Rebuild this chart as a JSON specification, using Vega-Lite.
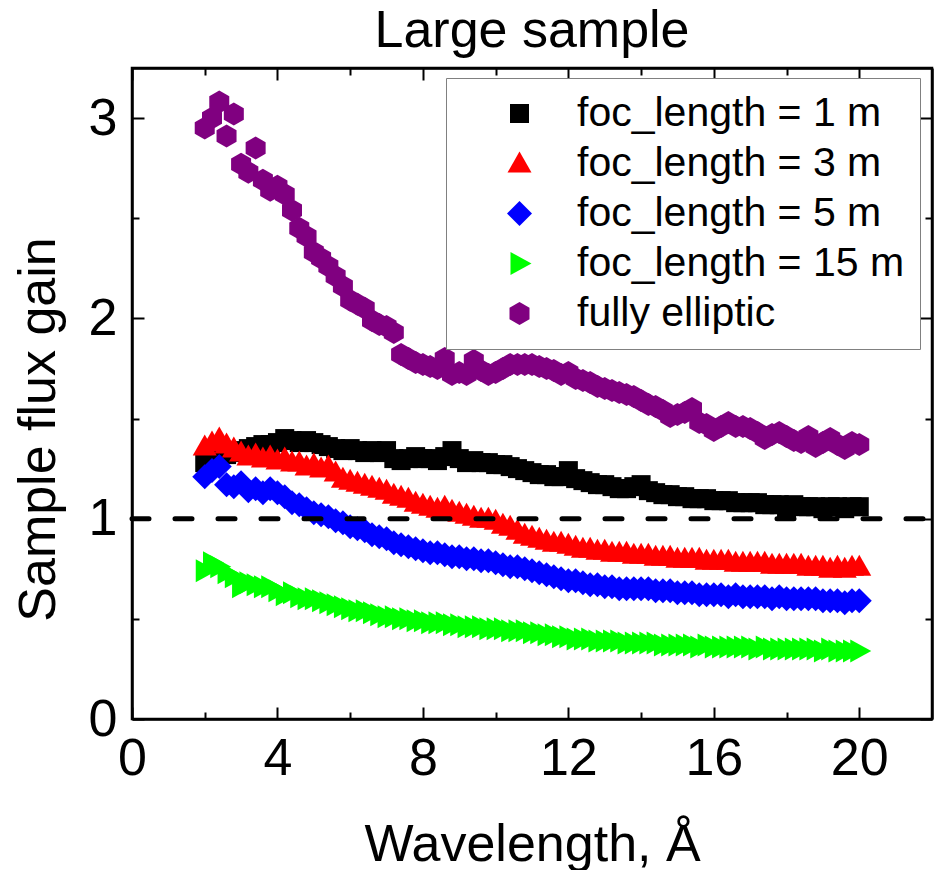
{
"$schema": "https://vega.github.io/schema/vega-lite/v6.json",
"width": 800,
"height": 651,
"autosize": {"type": "none"},
"padding": {"left": 132, "top": 68, "right": 8, "bottom": 151},
"background": "white",
"title": {"text": "Large sample", "fontSize": 52, "font": "Liberation Sans", "fontWeight": "normal", "anchor": "middle", "baseline": "alphabetic", "offset": 20, "dy": 52, "color": "black"},
"config": {
  "view": {"stroke": "black", "strokeWidth": 2.5},
  "font": "Liberation Sans",
  "axis": {"grid": false, "domainColor": "black", "domainWidth": 2.5, "tickColor": "black", "tickWidth": 2, "labelColor": "black", "labelFont": "Liberation Sans", "labelFontSize": 52, "titleFont": "Liberation Sans", "titleFontSize": 52, "titleFontWeight": "normal", "titleColor": "black", "labelOverlap": false, "labelFlush": false},
  "legend": {"orient": "none", "legendX": 314, "legendY": 10, "padding": 15, "strokeColor": "#808080", "fillColor": "white", "labelFont": "Liberation Sans", "labelFontSize": 41, "labelColor": "black", "labelLimit": 500, "symbolSize": 400, "symbolStrokeWidth": 0, "symbolOpacity": 1, "symbolOffset": 38, "labelOffset": 37, "rowPadding": 8}
},
"resolve": {"axis": {"x": "independent", "y": "independent"}},
"layer": [
{
  "data": {"values": [
{"x":2,"y":1.28,"s":"f1"},{"x":2.2,"y":1.30,"s":"f1"},{"x":2.4,"y":1.31,"s":"f1"},{"x":2.6,"y":1.32,"s":"f1"},{"x":2.8,"y":1.33,"s":"f1"},{"x":3,"y":1.34,"s":"f1"},{"x":3.2,"y":1.35,"s":"f1"},{"x":3.4,"y":1.36,"s":"f1"},{"x":3.6,"y":1.37,"s":"f1"},{"x":3.8,"y":1.37,"s":"f1"},
{"x":4,"y":1.38,"s":"f1"},{"x":4.2,"y":1.40,"s":"f1"},{"x":4.4,"y":1.39,"s":"f1"},{"x":4.6,"y":1.38,"s":"f1"},{"x":4.8,"y":1.39,"s":"f1"},{"x":5,"y":1.38,"s":"f1"},{"x":5.2,"y":1.37,"s":"f1"},{"x":5.4,"y":1.36,"s":"f1"},{"x":5.6,"y":1.35,"s":"f1"},{"x":5.8,"y":1.34,"s":"f1"},
{"x":6,"y":1.35,"s":"f1"},{"x":6.2,"y":1.34,"s":"f1"},{"x":6.4,"y":1.33,"s":"f1"},{"x":6.6,"y":1.34,"s":"f1"},{"x":6.8,"y":1.33,"s":"f1"},{"x":7,"y":1.34,"s":"f1"},{"x":7.2,"y":1.30,"s":"f1"},{"x":7.4,"y":1.29,"s":"f1"},{"x":7.6,"y":1.30,"s":"f1"},{"x":7.8,"y":1.31,"s":"f1"},
{"x":8,"y":1.30,"s":"f1"},{"x":8.2,"y":1.30,"s":"f1"},{"x":8.4,"y":1.29,"s":"f1"},{"x":8.6,"y":1.31,"s":"f1"},{"x":8.8,"y":1.34,"s":"f1"},{"x":9,"y":1.30,"s":"f1"},{"x":9.2,"y":1.28,"s":"f1"},{"x":9.4,"y":1.29,"s":"f1"},{"x":9.6,"y":1.28,"s":"f1"},{"x":9.8,"y":1.28,"s":"f1"},
{"x":10,"y":1.27,"s":"f1"},{"x":10.2,"y":1.27,"s":"f1"},{"x":10.4,"y":1.26,"s":"f1"},{"x":10.6,"y":1.25,"s":"f1"},{"x":10.8,"y":1.24,"s":"f1"},{"x":11,"y":1.23,"s":"f1"},{"x":11.2,"y":1.22,"s":"f1"},{"x":11.4,"y":1.22,"s":"f1"},{"x":11.6,"y":1.21,"s":"f1"},{"x":11.8,"y":1.21,"s":"f1"},
{"x":12,"y":1.24,"s":"f1"},{"x":12.2,"y":1.20,"s":"f1"},{"x":12.4,"y":1.19,"s":"f1"},{"x":12.6,"y":1.18,"s":"f1"},{"x":12.8,"y":1.17,"s":"f1"},{"x":13,"y":1.17,"s":"f1"},{"x":13.2,"y":1.16,"s":"f1"},{"x":13.4,"y":1.15,"s":"f1"},{"x":13.6,"y":1.15,"s":"f1"},{"x":13.8,"y":1.16,"s":"f1"},
{"x":14,"y":1.17,"s":"f1"},{"x":14.2,"y":1.14,"s":"f1"},{"x":14.4,"y":1.13,"s":"f1"},{"x":14.6,"y":1.12,"s":"f1"},{"x":14.8,"y":1.12,"s":"f1"},{"x":15,"y":1.11,"s":"f1"},{"x":15.2,"y":1.11,"s":"f1"},{"x":15.4,"y":1.10,"s":"f1"},{"x":15.6,"y":1.10,"s":"f1"},{"x":15.8,"y":1.10,"s":"f1"},
{"x":16,"y":1.09,"s":"f1"},{"x":16.2,"y":1.09,"s":"f1"},{"x":16.4,"y":1.09,"s":"f1"},{"x":16.6,"y":1.08,"s":"f1"},{"x":16.8,"y":1.08,"s":"f1"},{"x":17,"y":1.08,"s":"f1"},{"x":17.2,"y":1.08,"s":"f1"},{"x":17.4,"y":1.07,"s":"f1"},{"x":17.6,"y":1.07,"s":"f1"},{"x":17.8,"y":1.07,"s":"f1"},
{"x":18,"y":1.04,"s":"f1"},{"x":18.2,"y":1.07,"s":"f1"},{"x":18.4,"y":1.06,"s":"f1"},{"x":18.6,"y":1.06,"s":"f1"},{"x":18.8,"y":1.06,"s":"f1"},{"x":19,"y":1.05,"s":"f1"},{"x":19.2,"y":1.06,"s":"f1"},{"x":19.4,"y":1.06,"s":"f1"},{"x":19.6,"y":1.05,"s":"f1"},{"x":19.8,"y":1.06,"s":"f1"},{"x":20,"y":1.06,"s":"f1"},

{"x":2,"y":1.36,"s":"f3"},{"x":2.2,"y":1.38,"s":"f3"},{"x":2.4,"y":1.40,"s":"f3"},{"x":2.6,"y":1.37,"s":"f3"},{"x":2.8,"y":1.35,"s":"f3"},{"x":3,"y":1.33,"s":"f3"},{"x":3.2,"y":1.31,"s":"f3"},{"x":3.4,"y":1.32,"s":"f3"},{"x":3.6,"y":1.30,"s":"f3"},{"x":3.8,"y":1.31,"s":"f3"},
{"x":4,"y":1.29,"s":"f3"},{"x":4.2,"y":1.30,"s":"f3"},{"x":4.4,"y":1.28,"s":"f3"},{"x":4.6,"y":1.28,"s":"f3"},{"x":4.8,"y":1.26,"s":"f3"},{"x":5,"y":1.27,"s":"f3"},{"x":5.2,"y":1.25,"s":"f3"},{"x":5.4,"y":1.26,"s":"f3"},{"x":5.6,"y":1.23,"s":"f3"},{"x":5.8,"y":1.20,"s":"f3"},
{"x":6,"y":1.19,"s":"f3"},{"x":6.2,"y":1.18,"s":"f3"},{"x":6.4,"y":1.17,"s":"f3"},{"x":6.6,"y":1.16,"s":"f3"},{"x":6.8,"y":1.15,"s":"f3"},{"x":7,"y":1.14,"s":"f3"},{"x":7.2,"y":1.12,"s":"f3"},{"x":7.4,"y":1.11,"s":"f3"},{"x":7.6,"y":1.10,"s":"f3"},{"x":7.8,"y":1.08,"s":"f3"},
{"x":8,"y":1.07,"s":"f3"},{"x":8.2,"y":1.06,"s":"f3"},{"x":8.4,"y":1.05,"s":"f3"},{"x":8.6,"y":1.06,"s":"f3"},{"x":8.8,"y":1.04,"s":"f3"},{"x":9,"y":1.03,"s":"f3"},{"x":9.2,"y":1.02,"s":"f3"},{"x":9.4,"y":1.01,"s":"f3"},{"x":9.6,"y":1.00,"s":"f3"},{"x":9.8,"y":1.00,"s":"f3"},
{"x":10,"y":0.99,"s":"f3"},{"x":10.2,"y":0.97,"s":"f3"},{"x":10.4,"y":0.96,"s":"f3"},{"x":10.6,"y":0.94,"s":"f3"},{"x":10.8,"y":0.92,"s":"f3"},{"x":11,"y":0.91,"s":"f3"},{"x":11.2,"y":0.90,"s":"f3"},{"x":11.4,"y":0.89,"s":"f3"},{"x":11.6,"y":0.88,"s":"f3"},{"x":11.8,"y":0.88,"s":"f3"},
{"x":12,"y":0.87,"s":"f3"},{"x":12.2,"y":0.86,"s":"f3"},{"x":12.4,"y":0.85,"s":"f3"},{"x":12.6,"y":0.85,"s":"f3"},{"x":12.8,"y":0.84,"s":"f3"},{"x":13,"y":0.84,"s":"f3"},{"x":13.2,"y":0.83,"s":"f3"},{"x":13.4,"y":0.83,"s":"f3"},{"x":13.6,"y":0.83,"s":"f3"},{"x":13.8,"y":0.82,"s":"f3"},
{"x":14,"y":0.82,"s":"f3"},{"x":14.2,"y":0.82,"s":"f3"},{"x":14.4,"y":0.81,"s":"f3"},{"x":14.6,"y":0.81,"s":"f3"},{"x":14.8,"y":0.81,"s":"f3"},{"x":15,"y":0.80,"s":"f3"},{"x":15.2,"y":0.80,"s":"f3"},{"x":15.4,"y":0.80,"s":"f3"},{"x":15.6,"y":0.80,"s":"f3"},{"x":15.8,"y":0.79,"s":"f3"},
{"x":16,"y":0.79,"s":"f3"},{"x":16.2,"y":0.79,"s":"f3"},{"x":16.4,"y":0.79,"s":"f3"},{"x":16.6,"y":0.78,"s":"f3"},{"x":16.8,"y":0.78,"s":"f3"},{"x":17,"y":0.78,"s":"f3"},{"x":17.2,"y":0.78,"s":"f3"},{"x":17.4,"y":0.78,"s":"f3"},{"x":17.6,"y":0.77,"s":"f3"},{"x":17.8,"y":0.77,"s":"f3"},
{"x":18,"y":0.77,"s":"f3"},{"x":18.2,"y":0.77,"s":"f3"},{"x":18.4,"y":0.77,"s":"f3"},{"x":18.6,"y":0.76,"s":"f3"},{"x":18.8,"y":0.76,"s":"f3"},{"x":19,"y":0.76,"s":"f3"},{"x":19.2,"y":0.75,"s":"f3"},{"x":19.4,"y":0.76,"s":"f3"},{"x":19.6,"y":0.75,"s":"f3"},{"x":19.8,"y":0.76,"s":"f3"},{"x":20,"y":0.76,"s":"f3"},

{"x":2,"y":1.21,"s":"f5"},{"x":2.2,"y":1.24,"s":"f5"},{"x":2.4,"y":1.26,"s":"f5"},{"x":2.6,"y":1.17,"s":"f5"},{"x":2.8,"y":1.16,"s":"f5"},{"x":3,"y":1.18,"s":"f5"},{"x":3.2,"y":1.14,"s":"f5"},{"x":3.4,"y":1.15,"s":"f5"},{"x":3.6,"y":1.13,"s":"f5"},{"x":3.8,"y":1.15,"s":"f5"},
{"x":4,"y":1.13,"s":"f5"},{"x":4.2,"y":1.11,"s":"f5"},{"x":4.4,"y":1.08,"s":"f5"},{"x":4.6,"y":1.07,"s":"f5"},{"x":4.8,"y":1.05,"s":"f5"},{"x":5,"y":1.03,"s":"f5"},{"x":5.2,"y":1.02,"s":"f5"},{"x":5.4,"y":1.01,"s":"f5"},{"x":5.6,"y":0.99,"s":"f5"},{"x":5.8,"y":0.98,"s":"f5"},
{"x":6,"y":0.96,"s":"f5"},{"x":6.2,"y":0.95,"s":"f5"},{"x":6.4,"y":0.94,"s":"f5"},{"x":6.6,"y":0.92,"s":"f5"},{"x":6.8,"y":0.91,"s":"f5"},{"x":7,"y":0.90,"s":"f5"},{"x":7.2,"y":0.88,"s":"f5"},{"x":7.4,"y":0.87,"s":"f5"},{"x":7.6,"y":0.86,"s":"f5"},{"x":7.8,"y":0.85,"s":"f5"},
{"x":8,"y":0.84,"s":"f5"},{"x":8.2,"y":0.83,"s":"f5"},{"x":8.4,"y":0.83,"s":"f5"},{"x":8.6,"y":0.82,"s":"f5"},{"x":8.8,"y":0.81,"s":"f5"},{"x":9,"y":0.81,"s":"f5"},{"x":9.2,"y":0.80,"s":"f5"},{"x":9.4,"y":0.80,"s":"f5"},{"x":9.6,"y":0.79,"s":"f5"},{"x":9.8,"y":0.79,"s":"f5"},
{"x":10,"y":0.78,"s":"f5"},{"x":10.2,"y":0.77,"s":"f5"},{"x":10.4,"y":0.76,"s":"f5"},{"x":10.6,"y":0.76,"s":"f5"},{"x":10.8,"y":0.75,"s":"f5"},{"x":11,"y":0.74,"s":"f5"},{"x":11.2,"y":0.73,"s":"f5"},{"x":11.4,"y":0.72,"s":"f5"},{"x":11.6,"y":0.71,"s":"f5"},{"x":11.8,"y":0.70,"s":"f5"},
{"x":12,"y":0.69,"s":"f5"},{"x":12.2,"y":0.69,"s":"f5"},{"x":12.4,"y":0.68,"s":"f5"},{"x":12.6,"y":0.67,"s":"f5"},{"x":12.8,"y":0.67,"s":"f5"},{"x":13,"y":0.66,"s":"f5"},{"x":13.2,"y":0.66,"s":"f5"},{"x":13.4,"y":0.65,"s":"f5"},{"x":13.6,"y":0.65,"s":"f5"},{"x":13.8,"y":0.65,"s":"f5"},
{"x":14,"y":0.65,"s":"f5"},{"x":14.2,"y":0.65,"s":"f5"},{"x":14.4,"y":0.64,"s":"f5"},{"x":14.6,"y":0.64,"s":"f5"},{"x":14.8,"y":0.64,"s":"f5"},{"x":15,"y":0.63,"s":"f5"},{"x":15.2,"y":0.63,"s":"f5"},{"x":15.4,"y":0.63,"s":"f5"},{"x":15.6,"y":0.62,"s":"f5"},{"x":15.8,"y":0.62,"s":"f5"},
{"x":16,"y":0.62,"s":"f5"},{"x":16.2,"y":0.62,"s":"f5"},{"x":16.4,"y":0.61,"s":"f5"},{"x":16.6,"y":0.62,"s":"f5"},{"x":16.8,"y":0.61,"s":"f5"},{"x":17,"y":0.61,"s":"f5"},{"x":17.2,"y":0.61,"s":"f5"},{"x":17.4,"y":0.61,"s":"f5"},{"x":17.6,"y":0.60,"s":"f5"},{"x":17.8,"y":0.61,"s":"f5"},
{"x":18,"y":0.60,"s":"f5"},{"x":18.2,"y":0.60,"s":"f5"},{"x":18.4,"y":0.60,"s":"f5"},{"x":18.6,"y":0.60,"s":"f5"},{"x":18.8,"y":0.60,"s":"f5"},{"x":19,"y":0.59,"s":"f5"},{"x":19.2,"y":0.59,"s":"f5"},{"x":19.4,"y":0.59,"s":"f5"},{"x":19.6,"y":0.58,"s":"f5"},{"x":19.8,"y":0.59,"s":"f5"},{"x":20,"y":0.59,"s":"f5"},

{"x":2,"y":0.74,"s":"f15"},{"x":2.2,"y":0.78,"s":"f15"},{"x":2.4,"y":0.76,"s":"f15"},{"x":2.6,"y":0.73,"s":"f15"},{"x":2.8,"y":0.71,"s":"f15"},{"x":3,"y":0.66,"s":"f15"},{"x":3.2,"y":0.68,"s":"f15"},{"x":3.4,"y":0.67,"s":"f15"},{"x":3.6,"y":0.66,"s":"f15"},{"x":3.8,"y":0.66,"s":"f15"},
{"x":4,"y":0.64,"s":"f15"},{"x":4.2,"y":0.62,"s":"f15"},{"x":4.4,"y":0.63,"s":"f15"},{"x":4.6,"y":0.61,"s":"f15"},{"x":4.8,"y":0.60,"s":"f15"},{"x":5,"y":0.60,"s":"f15"},{"x":5.2,"y":0.59,"s":"f15"},{"x":5.4,"y":0.58,"s":"f15"},{"x":5.6,"y":0.57,"s":"f15"},{"x":5.8,"y":0.56,"s":"f15"},
{"x":6,"y":0.55,"s":"f15"},{"x":6.2,"y":0.54,"s":"f15"},{"x":6.4,"y":0.54,"s":"f15"},{"x":6.6,"y":0.53,"s":"f15"},{"x":6.8,"y":0.52,"s":"f15"},{"x":7,"y":0.51,"s":"f15"},{"x":7.2,"y":0.51,"s":"f15"},{"x":7.4,"y":0.50,"s":"f15"},{"x":7.6,"y":0.50,"s":"f15"},{"x":7.8,"y":0.49,"s":"f15"},
{"x":8,"y":0.49,"s":"f15"},{"x":8.2,"y":0.48,"s":"f15"},{"x":8.4,"y":0.48,"s":"f15"},{"x":8.6,"y":0.48,"s":"f15"},{"x":8.8,"y":0.47,"s":"f15"},{"x":9,"y":0.47,"s":"f15"},{"x":9.2,"y":0.46,"s":"f15"},{"x":9.4,"y":0.46,"s":"f15"},{"x":9.6,"y":0.46,"s":"f15"},{"x":9.8,"y":0.45,"s":"f15"},
{"x":10,"y":0.45,"s":"f15"},{"x":10.2,"y":0.45,"s":"f15"},{"x":10.4,"y":0.44,"s":"f15"},{"x":10.6,"y":0.44,"s":"f15"},{"x":10.8,"y":0.44,"s":"f15"},{"x":11,"y":0.43,"s":"f15"},{"x":11.2,"y":0.43,"s":"f15"},{"x":11.4,"y":0.42,"s":"f15"},{"x":11.6,"y":0.42,"s":"f15"},{"x":11.8,"y":0.41,"s":"f15"},
{"x":12,"y":0.41,"s":"f15"},{"x":12.2,"y":0.40,"s":"f15"},{"x":12.4,"y":0.40,"s":"f15"},{"x":12.6,"y":0.40,"s":"f15"},{"x":12.8,"y":0.39,"s":"f15"},{"x":13,"y":0.39,"s":"f15"},{"x":13.2,"y":0.39,"s":"f15"},{"x":13.4,"y":0.39,"s":"f15"},{"x":13.6,"y":0.38,"s":"f15"},{"x":13.8,"y":0.38,"s":"f15"},
{"x":14,"y":0.38,"s":"f15"},{"x":14.2,"y":0.38,"s":"f15"},{"x":14.4,"y":0.38,"s":"f15"},{"x":14.6,"y":0.37,"s":"f15"},{"x":14.8,"y":0.37,"s":"f15"},{"x":15,"y":0.37,"s":"f15"},{"x":15.2,"y":0.37,"s":"f15"},{"x":15.4,"y":0.37,"s":"f15"},{"x":15.6,"y":0.36,"s":"f15"},{"x":15.8,"y":0.37,"s":"f15"},
{"x":16,"y":0.36,"s":"f15"},{"x":16.2,"y":0.36,"s":"f15"},{"x":16.4,"y":0.36,"s":"f15"},{"x":16.6,"y":0.36,"s":"f15"},{"x":16.8,"y":0.36,"s":"f15"},{"x":17,"y":0.36,"s":"f15"},{"x":17.2,"y":0.35,"s":"f15"},{"x":17.4,"y":0.36,"s":"f15"},{"x":17.6,"y":0.35,"s":"f15"},{"x":17.8,"y":0.35,"s":"f15"},
{"x":18,"y":0.35,"s":"f15"},{"x":18.2,"y":0.35,"s":"f15"},{"x":18.4,"y":0.35,"s":"f15"},{"x":18.6,"y":0.35,"s":"f15"},{"x":18.8,"y":0.35,"s":"f15"},{"x":19,"y":0.34,"s":"f15"},{"x":19.2,"y":0.35,"s":"f15"},{"x":19.4,"y":0.34,"s":"f15"},{"x":19.6,"y":0.34,"s":"f15"},{"x":19.8,"y":0.34,"s":"f15"},{"x":20,"y":0.34,"s":"f15"},

{"x":2,"y":2.95,"s":"ell"},{"x":2.2,"y":3.00,"s":"ell"},{"x":2.4,"y":3.08,"s":"ell"},{"x":2.6,"y":2.91,"s":"ell"},{"x":2.8,"y":3.02,"s":"ell"},{"x":3,"y":2.77,"s":"ell"},{"x":3.2,"y":2.73,"s":"ell"},{"x":3.4,"y":2.85,"s":"ell"},{"x":3.6,"y":2.69,"s":"ell"},{"x":3.8,"y":2.64,"s":"ell"},
{"x":4,"y":2.66,"s":"ell"},{"x":4.2,"y":2.62,"s":"ell"},{"x":4.4,"y":2.54,"s":"ell"},{"x":4.6,"y":2.45,"s":"ell"},{"x":4.8,"y":2.41,"s":"ell"},{"x":5,"y":2.33,"s":"ell"},{"x":5.2,"y":2.30,"s":"ell"},{"x":5.4,"y":2.26,"s":"ell"},{"x":5.6,"y":2.21,"s":"ell"},{"x":5.8,"y":2.16,"s":"ell"},
{"x":6,"y":2.09,"s":"ell"},{"x":6.2,"y":2.07,"s":"ell"},{"x":6.4,"y":2.05,"s":"ell"},{"x":6.6,"y":1.99,"s":"ell"},{"x":6.8,"y":1.97,"s":"ell"},{"x":7,"y":1.96,"s":"ell"},{"x":7.2,"y":1.93,"s":"ell"},{"x":7.4,"y":1.82,"s":"ell"},{"x":7.6,"y":1.80,"s":"ell"},{"x":7.8,"y":1.78,"s":"ell"},
{"x":8,"y":1.77,"s":"ell"},{"x":8.2,"y":1.76,"s":"ell"},{"x":8.4,"y":1.75,"s":"ell"},{"x":8.6,"y":1.80,"s":"ell"},{"x":8.8,"y":1.72,"s":"ell"},{"x":9,"y":1.73,"s":"ell"},{"x":9.2,"y":1.72,"s":"ell"},{"x":9.4,"y":1.79,"s":"ell"},{"x":9.6,"y":1.74,"s":"ell"},{"x":9.8,"y":1.72,"s":"ell"},
{"x":10,"y":1.73,"s":"ell"},{"x":10.2,"y":1.75,"s":"ell"},{"x":10.4,"y":1.77,"s":"ell"},{"x":10.6,"y":1.77,"s":"ell"},{"x":10.8,"y":1.77,"s":"ell"},{"x":11,"y":1.77,"s":"ell"},{"x":11.2,"y":1.76,"s":"ell"},{"x":11.4,"y":1.75,"s":"ell"},{"x":11.6,"y":1.74,"s":"ell"},{"x":11.8,"y":1.72,"s":"ell"},
{"x":12,"y":1.73,"s":"ell"},{"x":12.2,"y":1.70,"s":"ell"},{"x":12.4,"y":1.69,"s":"ell"},{"x":12.6,"y":1.68,"s":"ell"},{"x":12.8,"y":1.66,"s":"ell"},{"x":13,"y":1.65,"s":"ell"},{"x":13.2,"y":1.64,"s":"ell"},{"x":13.4,"y":1.63,"s":"ell"},{"x":13.6,"y":1.62,"s":"ell"},{"x":13.8,"y":1.61,"s":"ell"},
{"x":14,"y":1.59,"s":"ell"},{"x":14.2,"y":1.57,"s":"ell"},{"x":14.4,"y":1.56,"s":"ell"},{"x":14.6,"y":1.54,"s":"ell"},{"x":14.8,"y":1.51,"s":"ell"},{"x":15,"y":1.52,"s":"ell"},{"x":15.2,"y":1.53,"s":"ell"},{"x":15.4,"y":1.55,"s":"ell"},{"x":15.6,"y":1.48,"s":"ell"},{"x":15.8,"y":1.47,"s":"ell"},
{"x":16,"y":1.44,"s":"ell"},{"x":16.2,"y":1.46,"s":"ell"},{"x":16.4,"y":1.48,"s":"ell"},{"x":16.6,"y":1.46,"s":"ell"},{"x":16.8,"y":1.46,"s":"ell"},{"x":17,"y":1.45,"s":"ell"},{"x":17.2,"y":1.43,"s":"ell"},{"x":17.4,"y":1.40,"s":"ell"},{"x":17.6,"y":1.42,"s":"ell"},{"x":17.8,"y":1.43,"s":"ell"},
{"x":18,"y":1.41,"s":"ell"},{"x":18.2,"y":1.39,"s":"ell"},{"x":18.4,"y":1.38,"s":"ell"},{"x":18.6,"y":1.41,"s":"ell"},{"x":18.8,"y":1.36,"s":"ell"},{"x":19,"y":1.38,"s":"ell"},{"x":19.2,"y":1.40,"s":"ell"},{"x":19.4,"y":1.37,"s":"ell"},{"x":19.6,"y":1.35,"s":"ell"},{"x":19.8,"y":1.38,"s":"ell"},{"x":20,"y":1.37,"s":"ell"}
  ]},
  "mark": {"type": "point", "filled": true, "size": 400, "opacity": 1, "strokeWidth": 0},
  "encoding": {
    "x": {"field": "x", "type": "quantitative", "scale": {"domain": [0, 22], "nice": false, "zero": false},
      "axis": {"orient": "bottom", "values": [0,2,4,6,8,10,12,14,16,18,20], "format": "~g", "labelExpr": "datum.value % 4 === 0 ? datum.label : ''",
        "tickSize": {"condition": {"test": "datum.value % 4 === 0", "value": -12}, "value": -7},
        "labelPadding": 26, "title": "Wavelength, Å", "titleX": 400, "titleY": 141, "titleBaseline": "alphabetic", "titleAlign": "center"}},
    "y": {"field": "y", "type": "quantitative", "scale": {"domain": [0, 3.25], "nice": false, "zero": false},
      "axis": {"orient": "left", "values": [0,0.5,1,1.5,2,2.5,3], "format": "~g", "labelExpr": "datum.value % 1 === 0 ? datum.label : ''",
        "tickSize": {"condition": {"test": "datum.value % 1 === 0", "value": -12}, "value": -7},
        "labelPadding": 27, "title": "Sample flux gain", "titleAngle": -90, "titleX": -78, "titleY": 361, "titleBaseline": "alphabetic", "titleAlign": "center"}},
    "color": {"field": "s", "type": "nominal", "scale": {"domain": ["f1","f3","f5","f15","ell"], "range": ["#000000","#ff0000","#0000ff","#00ff00","#800080"]},
      "legend": {"title": null, "labelExpr": "{'f1':'foc_length = 1 m','f3':'foc_length = 3 m','f5':'foc_length = 5 m','f15':'foc_length = 15 m','ell':'fully elliptic'}[datum.label]"}},
    "shape": {"field": "s", "type": "nominal", "scale": {"domain": ["f1","f3","f5","f15","ell"], "range": [
        "M-0.95,-0.95L0.95,-0.95L0.95,0.95L-0.95,0.95Z",
        "M0,-1.2L1.2,0.9L-1.2,0.9Z",
        "M0,-1.25L1.25,0L0,1.25L-1.25,0Z",
        "M1.2,0L-0.9,1.15L-0.9,-1.15Z",
        "M0,-1.15L1,-0.575L1,0.575L0,1.15L-1,0.575L-1,-0.575Z"]},
      "legend": {"title": null, "labelExpr": "{'f1':'foc_length = 1 m','f3':'foc_length = 3 m','f5':'foc_length = 5 m','f15':'foc_length = 15 m','ell':'fully elliptic'}[datum.label]"}},
    "order": {"field": "s", "type": "nominal"}
  }
},
{
  "data": {"values": [{"v": 1, "x0": 0, "x1": 22}]},
  "mark": {"type": "rule", "color": "black", "strokeWidth": 5, "strokeDash": [17, 26], "strokeCap": "round"},
  "encoding": {
    "x": {"field": "x0", "type": "quantitative",
      "axis": {"orient": "top", "values": [0,2,4,6,8,10,12,14,16,18,20], "labels": false, "title": null,
        "tickSize": {"condition": {"test": "datum.value % 4 === 0", "value": -12}, "value": -7}}},
    "x2": {"field": "x1"},
    "y": {"field": "v", "type": "quantitative",
      "axis": {"orient": "right", "values": [0,0.5,1,1.5,2,2.5,3], "labels": false, "title": null,
        "tickSize": {"condition": {"test": "datum.value % 1 === 0", "value": -12}, "value": -7}}}
  }
}
]
}
